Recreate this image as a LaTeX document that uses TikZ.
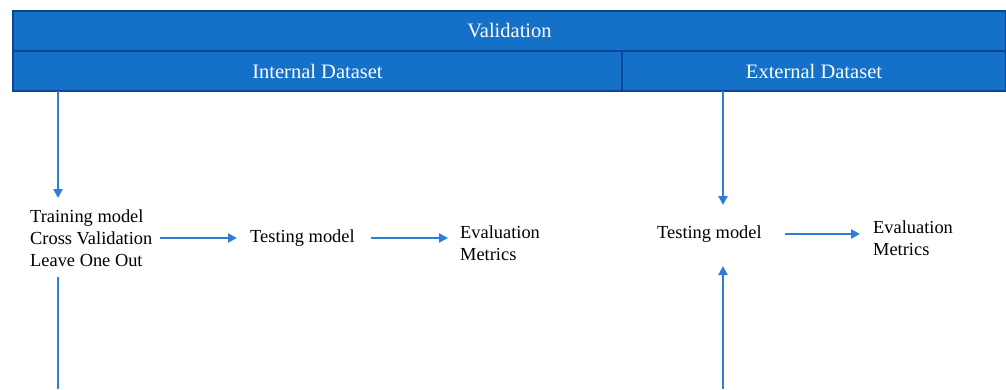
\documentclass[tikz,border=0pt]{standalone}
\usepackage{fontspec}
\setmainfont{Liberation Serif}
\usetikzlibrary{arrows.meta,calc}
\definecolor{hdrfill}{RGB}{21,112,200}
\definecolor{hdrline}{RGB}{10,70,150}
\definecolor{arrblue}{RGB}{46,125,214}
\tikzset{
  hdr/.style={draw=hdrline, line width=1.4pt, fill=hdrfill},
  hdrtext/.style={text=white, font=\fontsize{20.5}{24}\selectfont, inner sep=0pt},
  lbl/.style={inner sep=0pt, align=left, font=\fontsize{18.4}{22}\selectfont, text=black},
  arr/.style={draw=arrblue, line width=2.8pt, -{Triangle[length=9pt,width=9pt]}},
  ln/.style={draw=arrblue, line width=2.8pt}
}
\begin{document}
\begin{tikzpicture}[x=1pt,y=-1pt]
\useasboundingbox (0,0) rectangle (1006,389);
% header boxes
\path[hdr] (13,11) rectangle (1005.5,51);
\node[hdrtext] (val) at (509.5,31) {Validation};
\path[hdr] (13,51) rectangle (622,91);
\node[hdrtext] (intl) at (317.5,71) {Internal Dataset};
\path[hdr] (622,51) rectangle (1005.5,91);
\node[hdrtext] (extl) at (814,71) {External Dataset};
% text nodes
\node[lbl, anchor=west] (train) at (30,238) {Training model\\Cross Validation\\Leave One Out};
\node[lbl, anchor=west] (test1) at (250,238) {Testing model};
\node[lbl, anchor=west] (eval1) at (460,243) {Evaluation\\Metrics};
\node[lbl, anchor=west] (test2) at (657,234) {Testing model};
\node[lbl, anchor=west] (eval2) at (873,238) {Evaluation\\Metrics};
% coordinates
\coordinate (a1s) at (58,91);
\coordinate (a1e) at (58,198);
\coordinate (b1s) at (58,277);
\coordinate (b1e) at (58,389);
\coordinate (a2s) at (723,91);
\coordinate (a2e) at (723,205);
\coordinate (b2s) at (723,389);
\coordinate (b2e) at (723,266);
% connectors
\draw[arr] (a1s) -- (a1e);
\draw[ln] (b1s) -- (b1e);
\draw[arr] (a2s) -- (a2e);
\draw[arr] (b2s) -- (b2e);
\draw[arr, shorten <=7pt, shorten >=13pt] (train.east) -- (test1.west);
\draw[arr, shorten <=16pt, shorten >=12pt] (test1.east) -- (test1.east -| eval1.west);
\draw[arr, shorten <=23pt, shorten >=13pt] (test2.east) -- (test2.east -| eval2.west);
\end{tikzpicture}
\end{document}
